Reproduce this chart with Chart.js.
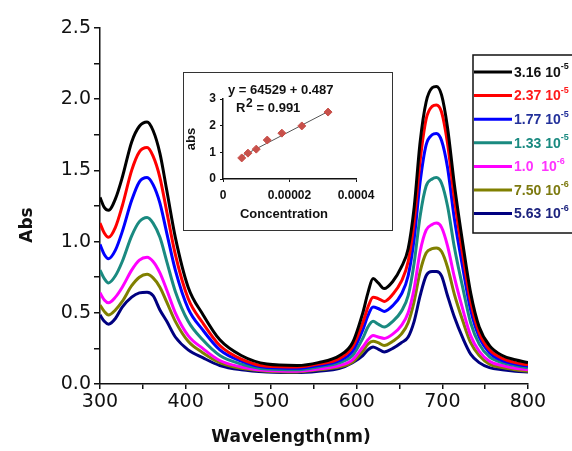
<!DOCTYPE html>
<html>
<head>
<meta charset="utf-8">
<script src="https://cdn.jsdelivr.net/npm/chart.js@4"></script>
<style>
  html, body { margin:0; padding:0; background:#ffffff; }
  #wrap { position:relative; width:572px; height:451px; overflow:hidden; }
  #mainChart { position:absolute; left:0; top:0; }
  #insetBox { position:absolute; left:183px; top:72px; width:208px; height:157px;
              border:1.5px solid #333; background:#ffffff; }
</style>
</head>
<body>
<div id="wrap">
  <canvas id="mainChart" width="572" height="451"></canvas>
  <div id="insetBox"><canvas id="insetChart" width="208" height="157"></canvas></div>
</div>
<script>
// ===== data =====
const wavelengths = [300,305,310,318,326,337,346,355,362,370,378,388,403,420,440,465,495,530,555,580,595,607,613,619,625,632,642,652,660,667,674,681,688,693,699,706,714,724,733,743,755,770,785,800];

const abs_3_16e5 = [1.31,1.24,1.22,1.30,1.45,1.70,1.81,1.84,1.78,1.62,1.36,1.03,0.68,0.49,0.31,0.20,0.14,0.13,0.15,0.20,0.29,0.50,0.64,0.74,0.71,0.67,0.72,0.82,0.95,1.24,1.70,1.98,2.08,2.09,2.03,1.80,1.40,0.98,0.64,0.40,0.27,0.20,0.17,0.15];
const abs_2_37e5 = [1.13,1.06,1.03,1.10,1.25,1.50,1.63,1.66,1.60,1.45,1.21,0.91,0.60,0.43,0.27,0.175,0.125,0.12,0.14,0.18,0.26,0.43,0.54,0.61,0.60,0.58,0.63,0.72,0.86,1.14,1.57,1.86,1.95,1.96,1.91,1.69,1.30,0.90,0.58,0.36,0.24,0.18,0.15,0.135];
const abs_1_77e5 = [0.98,0.91,0.88,0.94,1.07,1.29,1.42,1.45,1.40,1.27,1.06,0.80,0.53,0.38,0.24,0.16,0.115,0.11,0.13,0.165,0.23,0.38,0.48,0.54,0.53,0.51,0.55,0.63,0.76,1.02,1.42,1.68,1.75,1.76,1.71,1.52,1.16,0.81,0.52,0.33,0.22,0.165,0.14,0.125];
const abs_1_33e5 = [0.80,0.74,0.71,0.76,0.86,1.04,1.14,1.17,1.13,1.03,0.86,0.65,0.44,0.31,0.20,0.14,0.105,0.10,0.12,0.15,0.20,0.32,0.40,0.44,0.42,0.40,0.44,0.51,0.62,0.85,1.18,1.39,1.44,1.45,1.41,1.25,0.96,0.67,0.43,0.28,0.19,0.15,0.13,0.115];
const abs_1_0e5 = [0.64,0.59,0.57,0.61,0.68,0.80,0.87,0.89,0.86,0.78,0.66,0.50,0.34,0.25,0.165,0.12,0.095,0.09,0.105,0.13,0.17,0.26,0.31,0.34,0.33,0.32,0.35,0.41,0.50,0.67,0.93,1.08,1.12,1.13,1.10,0.97,0.75,0.52,0.34,0.23,0.16,0.13,0.11,0.10];
const abs_7_50e6 = [0.555,0.51,0.485,0.52,0.58,0.69,0.75,0.77,0.745,0.68,0.575,0.44,0.30,0.22,0.15,0.11,0.09,0.085,0.10,0.12,0.155,0.23,0.28,0.30,0.29,0.27,0.30,0.35,0.43,0.58,0.79,0.92,0.95,0.955,0.93,0.82,0.63,0.44,0.29,0.20,0.14,0.115,0.10,0.09];
const abs_5_63e6 = [0.485,0.44,0.42,0.46,0.54,0.61,0.64,0.645,0.62,0.52,0.44,0.33,0.24,0.185,0.13,0.10,0.085,0.08,0.09,0.11,0.15,0.20,0.24,0.26,0.245,0.225,0.25,0.29,0.33,0.44,0.62,0.76,0.79,0.79,0.76,0.62,0.47,0.32,0.21,0.15,0.115,0.10,0.09,0.085];

const seriesNames = ["3.16 10|-5","2.37 10|-5","1.77 10|-5","1.33 10|-5","1.0  10|-6","7.50 10|-6","5.63 10|-6"];
const seriesValues = [abs_3_16e5,abs_2_37e5,abs_1_77e5,abs_1_33e5,abs_1_0e5,abs_7_50e6,abs_5_63e6];
const lineColors = ["#000000","#ff0000","#0000ff","#1a8a80","#ff00ff","#808000","#000080"];
const textColors = ["#111111","#ff1a1a","#22309a","#1a8a80","#ff33ff","#7d7a10","#1c237e"];

const xTicks = [300,400,500,600,700,800];
const yTicks = [0.0,0.5,1.0,1.5,2.0,2.5];

// inset (calibration)
const concentrations = [5.63e-6,7.50e-6,1.0e-5,1.33e-5,1.77e-5,2.37e-5,3.16e-5];
const absAtPeak = [0.79,0.97,1.12,1.46,1.72,1.99,2.51];
const fitX = [5.63e-6,3.16e-5];
const fitY = [0.85,2.53];
const insetXLabels = {0:"0",0.00002:"0.00002",0.00004:"0.0004"};

// ===== main chart =====
const tickFont = {family:"DejaVu Sans", size:19};

const overlay = {
    id:"overlay",
    afterDraw(chart){
        const ctx = chart.ctx;
        ctx.save();
        // axis titles
        ctx.fillStyle = "#111";
        ctx.font = "bold 17px 'DejaVu Sans'";
        ctx.textAlign = "center";
        ctx.textBaseline = "middle";
        ctx.fillText("Wavelength(nm)", 291, 438);
        ctx.translate(28, 225);
        ctx.rotate(-Math.PI/2);
        ctx.fillText("Abs", 0, 0);
        ctx.restore();

        // legend box
        ctx.save();
        ctx.strokeStyle = "#111";
        ctx.lineWidth = 1.5;
        ctx.strokeRect(473, 55, 120, 178);
        seriesNames.forEach((name,i)=>{
            const y = 72 + i*23.6;
            ctx.strokeStyle = lineColors[i];
            ctx.lineWidth = 3;
            ctx.beginPath();
            ctx.moveTo(474, y);
            ctx.lineTo(512, y);
            ctx.stroke();
            const parts = name.split("|");
            ctx.fillStyle = textColors[i];
            ctx.textAlign = "left";
            ctx.textBaseline = "middle";
            ctx.font = "bold 14px 'Liberation Sans'";
            ctx.fillText(parts[0], 514, y + 1);
            const w = ctx.measureText(parts[0]).width;
            ctx.font = "bold 9px 'Liberation Sans'";
            ctx.fillText(parts[1], 514 + w, y - 5);
        });
        ctx.restore();
    }
};

new Chart(document.getElementById("mainChart"),{
    type:"line",
    data:{
        datasets:seriesValues.map((vals,i)=>({
            label:seriesNames[i],
            data:wavelengths.map((w,j)=>({x:w,y:vals[j]})),
            borderColor:lineColors[i],
            borderWidth:3,
            pointRadius:0,
            fill:false,
            cubicInterpolationMode:"monotone"
        }))
    },
    options:{
        responsive:false,
        animation:false,
        layout:{padding:{top:28,right:44,left:0,bottom:0}},
        plugins:{legend:{display:false},tooltip:{enabled:false}},
        scales:{
            x:{
                type:"linear",
                min:300,
                max:800,
                afterFit(scale){ scale.height = 67; },
                afterBuildTicks(scale){
                    scale.ticks = [];
                    for(let v=300; v<=800; v+=50){ scale.ticks.push({value:v}); }
                },
                ticks:{
                    color:"#111",
                    font:tickFont,
                    padding:2,
                    maxRotation:0,
                    autoSkip:false,
                    callback:(v)=> xTicks.includes(v) ? String(v) : ""
                },
                grid:{drawOnChartArea:false, drawTicks:true, tickLength:5, color:"#111", lineWidth:1.5},
                border:{display:true, color:"#111", width:1.5}
            },
            y:{
                type:"linear",
                min:0,
                max:2.5,
                afterFit(scale){ scale.width = 100; },
                afterBuildTicks(scale){
                    scale.ticks = [];
                    for(let k=0; k<=10; k++){ scale.ticks.push({value:k*0.25}); }
                },
                ticks:{
                    color:"#111",
                    font:tickFont,
                    padding:3,
                    autoSkip:false,
                    callback:(v)=>{
                        const hit = yTicks.find(t=>Math.abs(t-v)<1e-6);
                        return hit===undefined ? "" : hit.toFixed(1);
                    }
                },
                grid:{drawOnChartArea:false, drawTicks:true, tickLength:6, color:"#111", lineWidth:1.5},
                border:{display:true, color:"#111", width:1.5}
            }
        }
    },
    plugins:[overlay]
});

// ===== inset chart =====
const insetText = {
    id:"insetText",
    afterDraw(chart){
        const ctx = chart.ctx;
        ctx.save();
        ctx.fillStyle = "#111";
        ctx.textBaseline = "middle";
        ctx.textAlign = "left";
        ctx.font = "bold 13px 'Liberation Sans'";
        ctx.fillText("y = 64529 + 0.487", 44, 17);
        ctx.fillText("R", 52, 35);
        ctx.font = "bold 12px 'Liberation Sans'";
        ctx.fillText("2", 62, 31);
        ctx.font = "bold 13px 'Liberation Sans'";
        ctx.fillText(" = 0.991", 69, 35);
        ctx.font = "bold 13px 'Liberation Sans'";
        ctx.textAlign = "center";
        ctx.fillText("Concentration", 100, 141);
        ctx.translate(7, 66);
        ctx.rotate(-Math.PI/2);
        ctx.fillText("abs", 0, 0);
        ctx.restore();
    }
};

new Chart(document.getElementById("insetChart"),{
    type:"scatter",
    data:{
        datasets:[
            {
                data:concentrations.map((c,i)=>({x:c,y:absAtPeak[i]})),
                pointStyle:"rectRot",
                pointRadius:4,
                backgroundColor:"#c8504a",
                borderColor:"#c8504a",
                showLine:false
            },
            {
                data:fitX.map((c,i)=>({x:c,y:fitY[i]})),
                showLine:true,
                borderColor:"#555",
                borderWidth:1,
                pointRadius:0
            }
        ]
    },
    options:{
        responsive:false,
        animation:false,
        layout:{padding:{top:26,right:36,left:0,bottom:0}},
        plugins:{legend:{display:false},tooltip:{enabled:false}},
        scales:{
            x:{
                type:"linear",
                min:0,
                max:0.00004,
                afterFit(scale){ scale.height = 51; },
                afterBuildTicks(scale){
                    scale.ticks = [{value:0},{value:0.00002},{value:0.00004}];
                },
                ticks:{
                    color:"#111",
                    font:{family:"Liberation Sans", size:12, weight:"bold"},
                    padding:6,
                    maxRotation:0,
                    callback:(v)=> insetXLabels[v] || ""
                },
                grid:{drawOnChartArea:false, drawTicks:true, tickLength:3, color:"#111"},
                border:{display:true, color:"#111", width:1.5}
            },
            y:{
                type:"linear",
                min:0,
                max:3,
                afterFit(scale){ scale.width = 39; },
                ticks:{
                    stepSize:1,
                    color:"#111",
                    font:{family:"Liberation Sans", size:12, weight:"bold"},
                    padding:4
                },
                grid:{drawOnChartArea:false, drawTicks:true, tickLength:3, color:"#111"},
                border:{display:true, color:"#111", width:1.5}
            }
        }
    },
    plugins:[insetText]
});
</script>
</body>
</html>
